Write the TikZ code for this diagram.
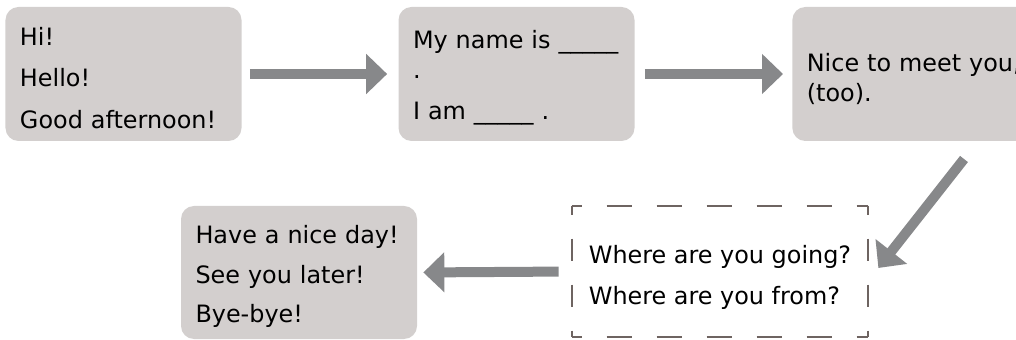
\documentclass[tikz,border=0pt]{standalone}
\usepackage{fontspec}
\setmainfont{DejaVu Sans}
\usepackage{tikz}
\usetikzlibrary{arrows.meta}
\definecolor{boxgrey}{RGB}{211,207,206}
\definecolor{arrowgrey}{RGB}{135,136,138}
\definecolor{dashgrey}{RGB}{110,100,97}
\newcommand{\topstrut}[1]{\rule{0pt}{#1}}
\tikzset{bigarrow/.style={draw=arrowgrey, line width=2mm, -{Triangle[width=7.8mm,length=4.2mm]}}}
\tikzset{hside/.style={draw=dashgrey, line width=0.4mm, dash pattern=on 5mm off 5mm, dash phase=3mm}}
\tikzset{vside/.style={draw=dashgrey, line width=0.4mm, dash pattern=on 4.4mm off 4.8mm, dash phase=2.6mm}}

\begin{document}
\begin{tikzpicture}[x=0.2mm, y=-0.2mm]
	% Default action for each node
	\tikzstyle{every node}=[font=\fontsize{13.6}{16.8}\selectfont, align=left, inner ysep=0pt];
	\tikzstyle{greybox}=[fill=boxgrey, rounded corners=2.6mm, text width=41.4mm, inner xsep=2.9mm];

	\useasboundingbox (0,0) rectangle (1016,340);

	% Boxes
	\node[greybox, minimum height=26.8mm] (greet) at (123.5,74) {\topstrut{5.2mm}Hi!\\[6.8pt]Hello!\\[6.8pt]Good afternoon!};
	\node[greybox, minimum height=26.8mm] (name) at (516.5,74) {\topstrut{5.2mm}My name is \_\_\_\_\_\\.\\[6.8pt]I am \_\_\_\_\_ .};
	\node[greybox, minimum height=26.8mm, anchor=west, text width=48mm] (nice) at (792,74) {\topstrut{5.6mm}Nice to meet you,\\(too).};
	\node[minimum width=59.2mm, minimum height=26.2mm, inner xsep=0pt] (where) at (720,271.5) {\topstrut{6mm}Where are you going?\\[6pt]Where are you from?};
	\node[greybox, minimum height=26.6mm] (bye) at (299,272.5) {\topstrut{5.2mm}Have a nice day!\\[5.7pt]See you later!\\[5.7pt]Bye-bye!};

	% Dashed frame
	\draw[hside] (where.north west) -- (where.north east);
	\draw[hside] (where.south west) -- (where.south east);
	\draw[vside] (where.north west) -- (where.south west);
	\draw[vside] (where.north east) -- (where.south east);

	% Arrows
	\coordinate (nicetail) at (964,159);
	\draw[bigarrow, shorten <=1.6mm, shorten >=2.2mm] (greet.east) -- (name.west);
	\draw[bigarrow, shorten <=2mm, shorten >=1.8mm] (name.east) -- (nice.west);
	\draw[bigarrow, shorten >=3.24mm] (nicetail) -- ([yshift=-1.84mm]where.east);
	\draw[bigarrow, shorten <=2.6mm, shorten >=1.2mm] (where.west) -- (bye.east);
\end{tikzpicture}
\end{document}
